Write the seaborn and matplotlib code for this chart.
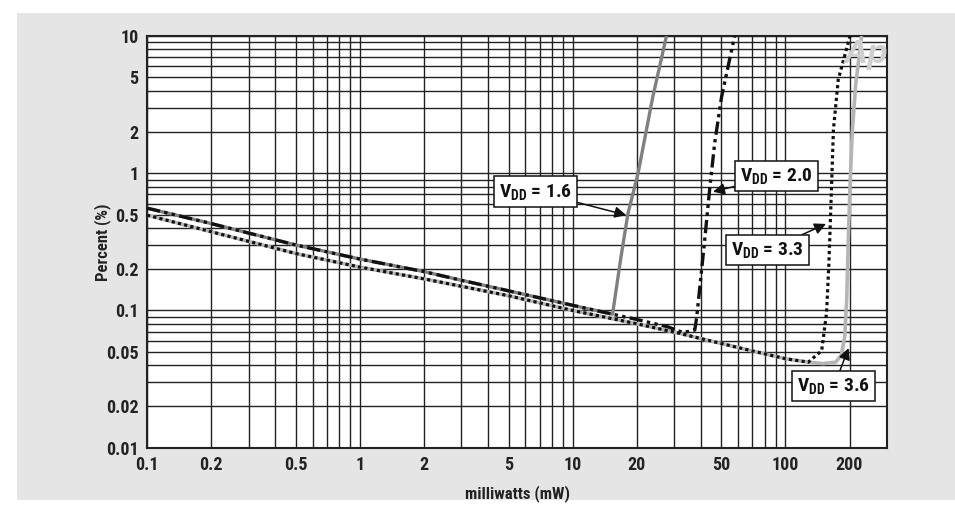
import numpy as np
import pandas as pd
import matplotlib
matplotlib.use("Agg")
import matplotlib.pyplot as plt
from matplotlib import font_manager
from matplotlib.ticker import FixedLocator, NullFormatter
import seaborn as sns

# ---------------- data ----------------
x_16 = [0.1, 0.2, 0.5, 1, 2, 3, 5, 10, 15.4, 16.9, 18.2, 20.3, 23.8, 27.6]
y_16 = [0.557, 0.43, 0.30, 0.237, 0.192, 0.166, 0.139, 0.109, 0.094, 0.25, 0.51, 1.0, 3.6, 10]

x_20 = [0.1, 0.2, 0.5, 1, 2, 3, 5, 10, 15.4, 20, 28, 33, 37.5, 38.3, 41.6, 44, 46.5, 50.1, 57.7]
y_20 = [0.557, 0.43, 0.30, 0.237, 0.192, 0.166, 0.139, 0.109, 0.094, 0.086, 0.076, 0.069, 0.072, 0.09, 0.31, 0.755, 1.66, 3.6, 10]

x_33 = [0.1, 0.2, 0.5, 1, 2, 3, 5, 10, 20, 32, 39, 62, 100, 128, 148, 156, 160, 164, 168, 177, 201]
y_33 = [0.495, 0.375, 0.26, 0.207, 0.17, 0.15, 0.128, 0.1, 0.08, 0.068, 0.063, 0.053, 0.0445, 0.042, 0.051, 0.096, 0.22, 0.67, 2.07, 4.8, 10]

x_36 = [0.1, 0.2, 0.5, 1, 2, 3, 5, 10, 20, 32, 39, 62, 100, 128, 150, 172, 183, 190, 194, 197, 201, 206, 214, 228]
y_36 = [0.495, 0.375, 0.26, 0.207, 0.17, 0.15, 0.128, 0.1, 0.08, 0.068, 0.063, 0.053, 0.0445, 0.042, 0.041, 0.042, 0.047, 0.065, 0.12, 0.3, 0.8, 2.0, 4.5, 10]

x_ticks = [0.1, 0.2, 0.5, 1, 2, 5, 10, 20, 50, 100, 200]
x_tick_labels = ["0.1", "0.2", "0.5", "1", "2", "5", "10", "20", "50", "100", "200"]
y_ticks = [0.01, 0.02, 0.05, 0.1, 0.2, 0.5, 1, 2, 5, 10]
y_tick_labels = ["0.01", "0.02", "0.05", "0.1", "0.2", "0.5", "1", "2", "5", "10"]

labels = ["1.6", "2.0", "3.3", "3.6"]
label_pos = [(6.68, 0.736), (90.8, 0.954), (82.4, 0.275), (169, 0.0281)]
arrow_tip = [(17.85, 0.495), (45.7, 0.733), (155, 0.427), (198, 0.0532)]

# ---------------- fonts ----------------
sns.set_theme(style="white")

def _w(f):
    w = f.weight
    if isinstance(w, str):
        return {"bold": 700, "heavy": 800, "black": 900, "semibold": 600,
                "demibold": 600, "extra bold": 800}.get(w.lower(), 400)
    return int(w)

bold_names = {f.name for f in font_manager.fontManager.ttflist if _w(f) >= 650}
prefs = ["Roboto Condensed", "Helvetica Condensed", "Nimbus Sans Narrow", "Liberation Sans Narrow",
         "Arial Narrow", "Archivo Narrow", "Barlow Semi Condensed", "Asap Condensed",
         "Encode Sans Semi Condensed", "Barlow Condensed", "Cabin Condensed"]
main_font = next((p for p in prefs if p in bold_names), "Liberation Sans")
plt.rcParams["font.family"] = [main_font, "DejaVu Sans"]
plt.rcParams["mathtext.fontset"] = "custom"
plt.rcParams["mathtext.rm"] = main_font + ":bold"
plt.rcParams["mathtext.it"] = main_font + ":bold"
plt.rcParams["mathtext.bf"] = main_font + ":bold"

fig = plt.figure(figsize=(9.55, 5.13), dpi=100, facecolor="white")
fig.patches.append(plt.Rectangle((17 / 955, 1 - 500 / 513), 1 - 17 / 955, (500 - 13) / 513,
                                 transform=fig.transFigure, facecolor="#e5e5e5",
                                 edgecolor="none", zorder=-10))
ax = fig.add_axes([147 / 955, 1 - 447.7 / 513, (887 - 147) / 955, (447.7 - 36) / 513])
ax.set_facecolor("white")

ax.set_xscale("log")
ax.set_yscale("log")
ax.set_xlim(0.1, 300)
ax.set_ylim(0.01, 10)

gx = [m * 10.0 ** e for e in range(-1, 3) for m in range(1, 10) if m * 10.0 ** e <= 300]
gy = [m * 10.0 ** e for e in range(-2, 1) for m in range(1, 10)] + [10]
ax.xaxis.set_major_locator(FixedLocator(x_ticks))
ax.yaxis.set_major_locator(FixedLocator(y_ticks))
ax.xaxis.set_minor_locator(FixedLocator(gx))
ax.yaxis.set_minor_locator(FixedLocator(gy))
ax.xaxis.set_minor_formatter(NullFormatter())
ax.yaxis.set_minor_formatter(NullFormatter())
ax.set_xticklabels(x_tick_labels)
ax.set_yticklabels(y_tick_labels)
ax.grid(True, which="both", color="#222222", linewidth=1.0)
ax.set_axisbelow(True)
ax.tick_params(axis="both", which="both", length=0)
ax.tick_params(axis="x", pad=6, labelsize=13, labelcolor="#222222")
ax.tick_params(axis="y", pad=6, labelsize=13, labelcolor="#222222")
for t in ax.get_xticklabels() + ax.get_yticklabels():
    t.set_fontweight("bold")
for s in ax.spines.values():
    s.set_color("#222222")
    s.set_linewidth(1.5)

def draw(xs, ys, color, lw, ls, z):
    df = pd.DataFrame({"x": xs, "y": ys})
    n0 = len(ax.lines)
    sns.lineplot(data=df, x="x", y="y", ax=ax, color=color, linewidth=lw,
                 sort=False, estimator=None, legend=False)
    ln = ax.lines[n0]
    ln.set_linestyle(ls)
    ln.set_dash_capstyle("butt")
    ln.set_solid_capstyle("butt")
    ln.set_solid_joinstyle("round")
    ln.set_zorder(z)

draw(x_36, y_36, "#b5b5b5", 2.6, "-", 3)
draw(x_33, y_33, "#111111", 2.3, (0, (1, 1)), 4)
draw(x_16, y_16, "#808080", 2.4, "-", 5)
draw(x_20, y_20, "#111111", 2.4, (0, (4, 1.3, 1, 1.3, 1, 1.3)), 6)

ax.set_xlabel("milliwatts (mW)", fontsize=12, fontweight="bold", color="#222222")
ax.set_ylabel("Percent (%)", fontsize=12, fontweight="bold", color="#222222")
ax.xaxis.set_label_coords(0.5, -0.092)
ax.yaxis.set_label_coords(-0.049, 0.5)

for lab, (tx, ty), (ax_, ay_) in zip(labels, label_pos, arrow_tip):
    ax.annotate(r"$\mathrm{V_{DD}}$" + " = " + lab, xy=(ax_, ay_), xytext=(tx, ty),
                textcoords="data", ha="center", va="center", fontsize=14,
                fontweight="bold", color="#111111", zorder=10,
                bbox=dict(boxstyle="square,pad=0.26", fc="white", ec="#111111", lw=1.1),
                arrowprops=dict(arrowstyle="-|>", color="#111111", lw=1.1,
                                mutation_scale=17, shrinkA=0, shrinkB=0))

ax.text(0.9716, 0.955, "Ap", transform=ax.transAxes, ha="center", va="center",
        fontsize=24, fontweight="bold", fontstyle="italic", color="#cfcfcf",
        family=["Liberation Sans", "DejaVu Sans"], zorder=8)

fig.savefig("out.png", dpi=100, facecolor="white")
